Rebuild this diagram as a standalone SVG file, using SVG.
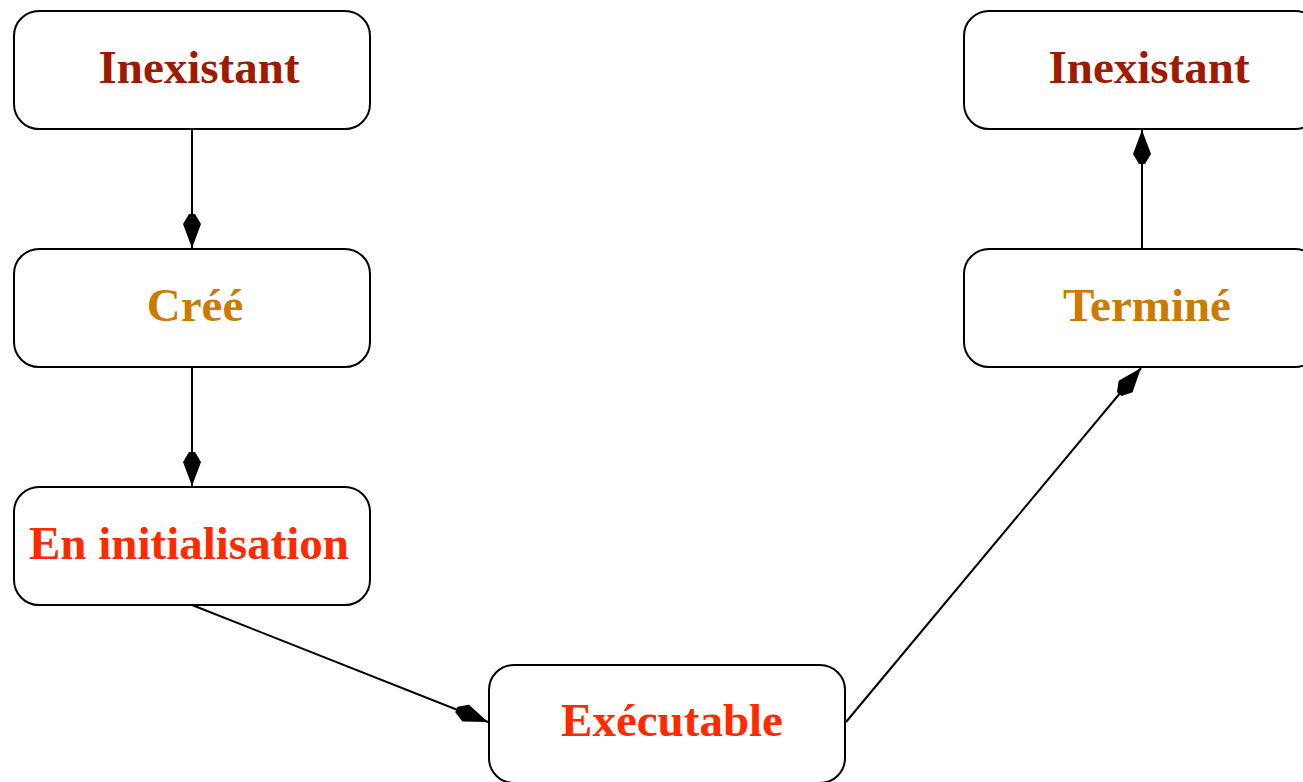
<svg xmlns="http://www.w3.org/2000/svg" width="1303" height="782" viewBox="0 0 1303 782">
<style>
.box{fill:#fff;stroke:#000;stroke-width:2}
.lbl{font-family:"Liberation Serif","Times New Roman",serif;font-weight:bold;font-size:47px;text-anchor:middle}
.c1{fill:#9e1a00}
.c2{fill:#cc7a00}
.c3{fill:#ff2a00}
.edge{stroke:#000;stroke-width:2;fill:none;marker-end:url(#kite)}
</style>
<defs>
<marker id="kite" markerUnits="userSpaceOnUse" orient="auto" refX="0" refY="0" markerWidth="40" markerHeight="24" viewBox="-36 -12 40 24" overflow="visible">
<path d="M0,0 L-24,-9 L-34,-3 L-34,3 L-24,9 Z" fill="#000"/>
</marker>
</defs>
<rect width="1303" height="782" fill="#fff"/>
<g id="connectors">
<line class="edge" x1="192" y1="129" x2="192" y2="248"/>
<line class="edge" x1="192" y1="367" x2="192" y2="486"/>
<line class="edge" x1="192" y1="605" x2="488" y2="722"/>
<line class="edge" x1="846" y1="722" x2="1141" y2="368"/>
<line class="edge" x1="1142" y1="249" x2="1142" y2="130"/>
</g>
<g id="n1"><rect class="box" x="14" y="11" width="356" height="118" rx="25"/><text class="lbl c1" x="199" y="83">Inexistant</text></g>
<g id="n2"><rect class="box" x="14" y="249" width="356" height="118" rx="25"/><text class="lbl c2" x="195" y="321">Créé</text></g>
<g id="n3"><rect class="box" x="14" y="487" width="356" height="118" rx="25"/><text class="lbl c3" x="189" y="559">En initialisation</text></g>
<g id="n4"><rect class="box" x="489" y="665" width="356" height="118" rx="25"/><text class="lbl c3" x="672" y="736">Exécutable</text></g>
<g id="n5"><rect class="box" x="964" y="249" width="356" height="118" rx="25"/><text class="lbl c2" x="1147" y="321">Terminé</text></g>
<g id="n6"><rect class="box" x="964" y="11" width="356" height="118" rx="25"/><text class="lbl c1" x="1149" y="83">Inexistant</text></g>
</svg>
